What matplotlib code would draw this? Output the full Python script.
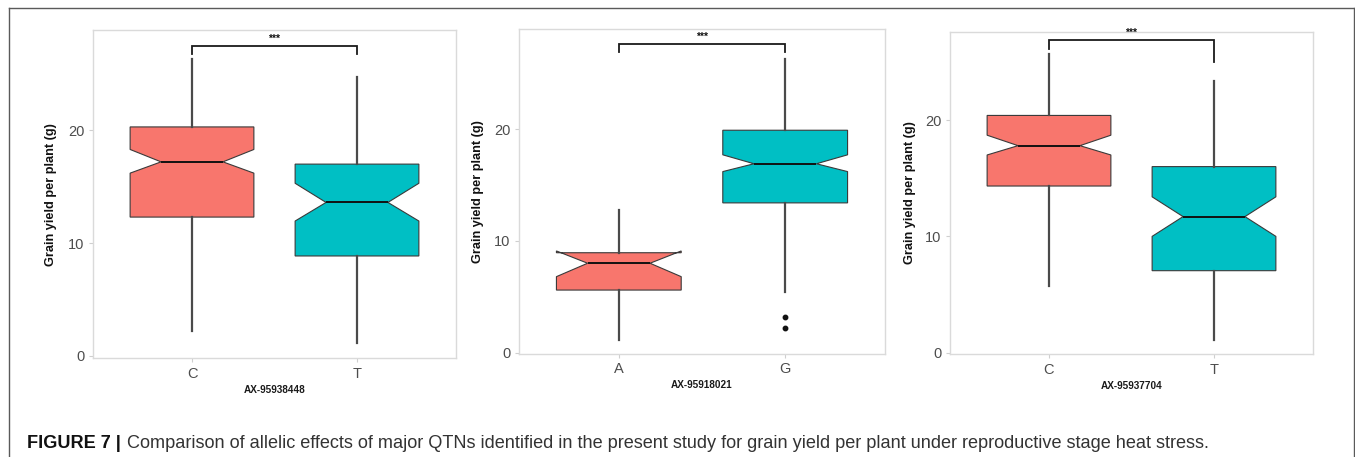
import matplotlib
matplotlib.use("Agg")
import matplotlib.pyplot as plt
from matplotlib import font_manager
from matplotlib.lines import Line2D
from matplotlib.transforms import blended_transform_factory

# ---------------- data ----------------
markers = ["AX-95938448", "AX-95918021", "AX-95937704"]
alleles = [["C", "T"], ["A", "G"], ["C", "T"]]
whisker_lo = [[2.2, 1.15], [1.1, 5.4], [5.7, 1.1]]
q1_vals = [[12.3, 8.85], [5.6, 13.4], [14.33, 7.05]]
notch_lo = [[16.2, 11.95], [6.8, 16.2], [17.0, 10.0]]
medians = [[17.2, 13.6], [8.0, 16.9], [17.8, 11.7]]
notch_hi = [[18.3, 15.3], [9.1, 17.7], [18.7, 13.4]]
q3_vals = [[20.3, 17.0], [8.94, 19.9], [20.4, 16.0]]
whisker_hi = [[26.3, 24.7], [12.8, 26.3], [25.7, 23.4]]
outliers = [[[], []], [[], [3.17, 2.2]], [[], []]]
bracket_y = [27.5, 27.6, 26.9]
bracket_ends = [[26.8, 26.8], [26.9, 26.9], [26.1, 25.0]]
sig_label = "***"
y_ticks = [0, 10, 20]
y_label = "Grain yield per plant (g)"
caption_bold = "FIGURE 7 |"
caption_rest = ("Comparison of allelic effects of major QTNs identified in the present "
                "study for grain yield per plant under reproductive stage heat stress.")

# ---------------- style ----------------
W, H = 1355, 457
fill_colors = ["#F8766D", "#00BFC4"]
names = {f.name for f in font_manager.fontManager.ttflist}
narrow = "Liberation Sans Narrow" if "Liberation Sans Narrow" in names else "Liberation Sans"
sans = "Liberation Sans"

# axes rectangles in pixels (left, top, right, bottom)
boxes_px = [(93, 30, 456, 358.3), (519, 29.3, 885, 354), (950, 31.7, 1313, 354.3)]
ylims = [(-0.23, 28.9), (-0.12, 28.93), (-0.14, 27.6)]
ylabel_x_px = [57, 484, 916]

fig = plt.figure(figsize=(W / 100, H / 100), dpi=100)
fig.patch.set_facecolor("white")


def px_rect(l, t, r, b):
    return [l / W, 1 - b / H, (r - l) / W, (b - t) / H]


for i in range(3):
    ax = fig.add_axes(px_rect(*boxes_px[i]))
    stats = []
    for j in range(2):
        stats.append(dict(med=medians[i][j], q1=q1_vals[i][j], q3=q3_vals[i][j],
                          whislo=whisker_lo[i][j], whishi=whisker_hi[i][j],
                          cilo=notch_lo[i][j], cihi=notch_hi[i][j],
                          fliers=outliers[i][j], label=alleles[i][j]))
    res = ax.bxp(stats, positions=[1, 2], widths=0.75, patch_artist=True,
                 shownotches=True, showcaps=False, showfliers=True,
                 boxprops=dict(edgecolor="#3a3a3a", linewidth=0.8),
                 whiskerprops=dict(color="#4a4a4a", linewidth=1.6),
                 medianprops=dict(color="#111111", linewidth=1.4),
                 flierprops=dict(marker="o", markerfacecolor="#111111",
                                 markeredgecolor="#111111", markersize=3.2))
    for patch, c in zip(res["boxes"], fill_colors):
        patch.set_facecolor(c)
    # significance bracket
    x0, x1 = 1, 2
    ax.plot([x0, x0, x1, x1],
            [bracket_ends[i][0], bracket_y[i], bracket_y[i], bracket_ends[i][1]],
            color="#1a1a1a", linewidth=1.3, clip_on=False, solid_joinstyle="miter")
    ax.text(1.5, bracket_y[i] + 0.2, sig_label, ha="center", va="bottom",
            fontsize=7.5, fontweight="bold", family=sans, color="#111111", clip_on=False)

    ax.set_xlim(0.4, 2.6)
    ax.set_ylim(*ylims[i])
    ax.set_yticks(y_ticks)
    ax.set_yticklabels([str(v) for v in y_ticks])
    ax.set_xticks([1, 2])
    ax.set_xticklabels(alleles[i])
    ax.tick_params(axis="both", colors="#cfcfcf", length=3, width=0.8,
                   labelcolor="#4d4d4d", labelsize=10.5, pad=3)
    for lab in ax.get_xticklabels() + ax.get_yticklabels():
        lab.set_family(narrow)
    ax.tick_params(axis="x", pad=3)
    for sp in ax.spines.values():
        sp.set_color("#dadada")
        sp.set_linewidth(1.0)
    ax.set_xlabel(markers[i], family=narrow, fontweight="bold", fontsize=7.2,
                  color="#1a1a1a", labelpad=3)
    ax.set_ylabel(y_label, family=sans, fontweight="bold", fontsize=9.2,
                  color="#111111")
    ax.yaxis.set_label_coords(ylabel_x_px[i] / W, 0.5,
                              transform=blended_transform_factory(fig.transFigure, ax.transAxes))

# outer frame (top, left, right)
frame_col = "#5a5a5a"
fig.add_artist(Line2D([9 / W, 1354 / W], [1 - 8 / H, 1 - 8 / H],
                      transform=fig.transFigure, color=frame_col, linewidth=1.0))
fig.add_artist(Line2D([9 / W, 9 / W], [0, 1 - 8 / H],
                      transform=fig.transFigure, color=frame_col, linewidth=1.0))
fig.add_artist(Line2D([1354 / W, 1354 / W], [0, 1 - 8 / H],
                      transform=fig.transFigure, color=frame_col, linewidth=1.0))

# caption
t1 = fig.text(27 / W, 1 - 448 / H, caption_bold, family=sans, fontweight="bold",
              fontsize=13.1, color="#111111", va="baseline", ha="left")
fig.canvas.draw()
bb = t1.get_window_extent(renderer=fig.canvas.get_renderer())
fig.text((bb.x1 + 6) / W, 1 - 448 / H, caption_rest, family=sans,
         fontsize=13.1, color="#333333", va="baseline", ha="left")

fig.savefig("out.png", dpi=100)
